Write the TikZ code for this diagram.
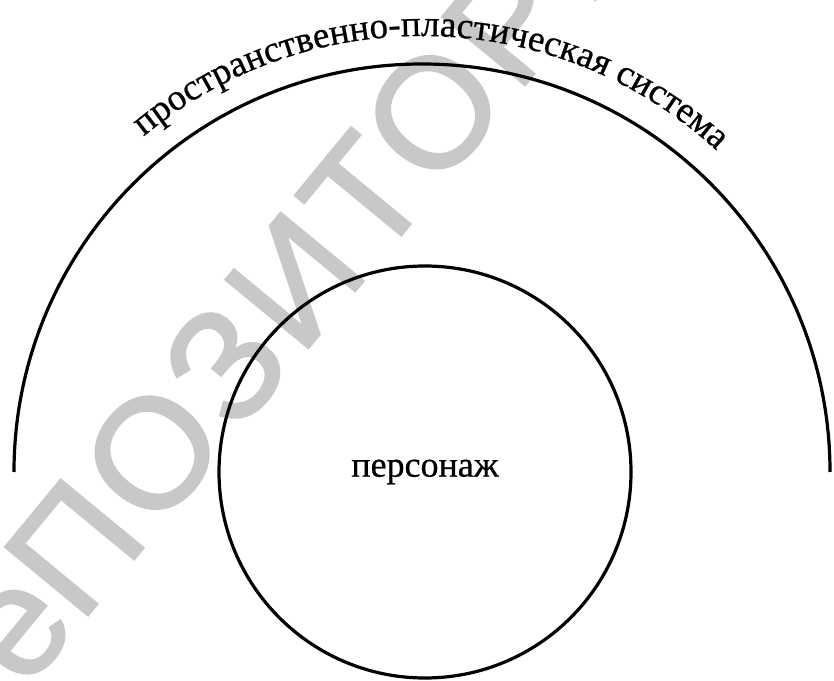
\documentclass[tikz,border=0pt]{standalone}
\usepackage{fontspec}
\setmainfont{Liberation Serif}
\newfontfamily\capfont{Liberation Serif}[FakeBold=0.6]
\newfontfamily\wmfont{Liberation Sans}[LetterSpace=4, FakeBold=1.5]
\usetikzlibrary{decorations.text}
\definecolor{wmgray}{RGB}{200,200,200}
\tikzset{
  ring/.style={line width=3.2pt, draw=black},
  wm/.style={text=wmgray, inner sep=0pt, outer sep=0pt,
    font=\wmfont\fontsize{156}{160}\selectfont},
  label36/.style={font=\capfont\fontsize{36}{40}\selectfont}
}
\begin{document}
\begin{tikzpicture}[x=1pt,y=1pt]
  \useasboundingbox (0,0) rectangle (834,680);
  \clip (0,0) rectangle (834,680);
  \fill[white] (0,0) rectangle (834,680);

  % background stamp
  \node[wm, anchor=base west, rotate=50.5] (wmB) at (80,55) {ПОЗИТОРИЙ};
  \node[wm, anchor=base east, rotate=50.5] (wmA) at (80,55) {Ре};

  % outer half ring
  \coordinate (c) at (422,208);
  \draw[ring] (c) ++(180:408) arc[start angle=180, end angle=0, radius=408];

  % caption running along the outer ring
  \path[decorate, decoration={text along path, text align=center,
      text={|\capfont\fontsize{37}{40}\selectfont|пространственно-пластическая система}}]
    (c) ++(133.6:436) arc[start angle=133.6, end angle=43.6, radius=436];

  % inner circle
  \node[ring, circle, minimum size=412pt, inner sep=0pt, label36] (pers) at (425,208) {персонаж};
\end{tikzpicture}
\end{document}
